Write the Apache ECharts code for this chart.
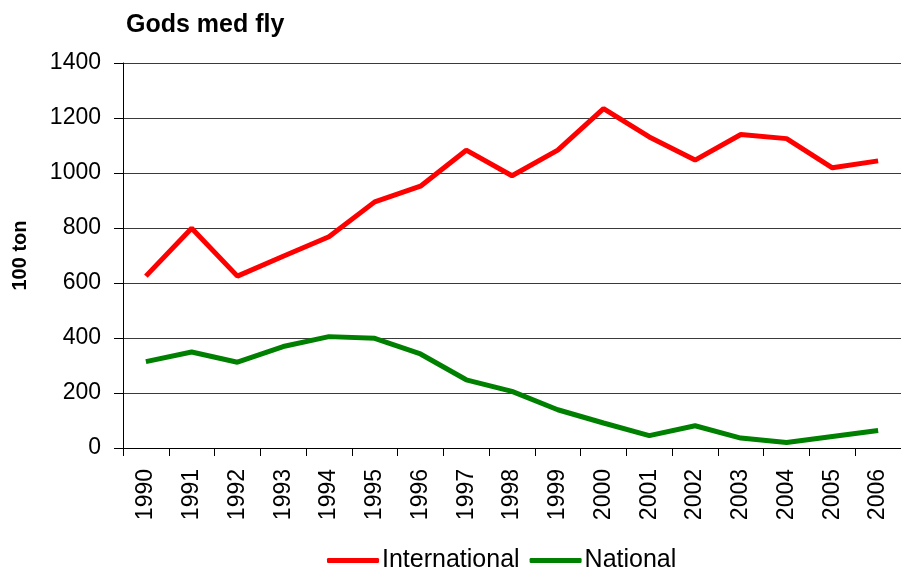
<!DOCTYPE html>
<html>
<head>
<meta charset="utf-8">
<script src="https://cdn.jsdelivr.net/npm/echarts@6/dist/echarts.min.js"></script>
<style>
  html, body { margin: 0; padding: 0; background: #fff; }
  #main { width: 901px; height: 567px; }
</style>
</head>
<body>
<div id="main"></div>
<script>
var years = ['1990', '1991', '1992', '1993', '1994', '1995', '1996', '1997', '1998',
	'1999', '2000', '2001', '2002', '2003', '2004', '2005', '2006'];
// 100 ton
var international = [625, 799, 625, 697, 768, 895, 952, 1083, 990, 1083, 1234, 1131, 1047, 1140, 1125, 1019, 1044];
var national = [314, 349, 312, 369, 405, 399, 342, 248, 206, 139, 91, 45, 81, 36, 20, 42, 64];

var font = 'Liberation Sans, Arial, sans-serif';
var myChart = echarts.init(document.getElementById('main'));

var option = {
	animation: false,
	backgroundColor: '#fff',
	title: {
		text: 'Gods med fly',
		left: 121,
		top: 8,
		textStyle: { fontFamily: font, fontSize: 25, fontWeight: 'bold', color: '#000' }
	},
	legend: {
		top: 543,
		left: 322,
		icon: 'roundRect',
		itemWidth: 52,
		itemHeight: 5,
		itemGap: 10,
		itemStyle: { borderWidth: 0 },
		textStyle: { fontFamily: font, fontSize: 25, color: '#000', padding: [0, 0, 0, -2] },
		data: ['International', 'National']
	},
	grid: {
		left: 123,
		top: 63,
		width: 787,
		height: 385,
		containLabel: false
	},
	xAxis: {
		type: 'category',
		data: years,
		boundaryGap: true,
		axisLine: { lineStyle: { color: '#000', width: 1 } },
		axisTick: { show: true, length: 8, interval: 0, lineStyle: { color: '#000' } },
		axisLabel: {
			interval: 0,
			rotate: 90,
			margin: 21,
			fontFamily: font,
			fontSize: 23,
			color: '#000'
		}
	},
	yAxis: {
		type: 'value',
		min: 0,
		max: 1400,
		interval: 200,
		name: '100 ton',
		nameLocation: 'middle',
		nameRotate: 90,
		nameGap: 93,
		nameTextStyle: { fontFamily: font, fontSize: 20, fontWeight: 'bold', color: '#000' },
		axisLine: { show: true, lineStyle: { color: '#000', width: 1 } },
		axisTick: { show: true, length: 9, lineStyle: { color: '#000' } },
		axisLabel: {
			margin: 22,
			fontFamily: font,
			fontSize: 23,
			color: '#000',
			formatter: function(v) { return String(v); }
		},
		splitLine: { show: true, lineStyle: { color: '#3a3a3a', width: 1 } }
	},
	series: [{
		name: 'International',
		type: 'line',
		data: international,
		symbol: 'none',
		color: '#ff0000',
		lineStyle: { width: 5, color: '#ff0000' }
	}, {
		name: 'National',
		type: 'line',
		data: national,
		symbol: 'none',
		color: '#008000',
		lineStyle: { width: 5, color: '#008000' }
	}]
};
myChart.setOption(option);
</script>
</body>
</html>
